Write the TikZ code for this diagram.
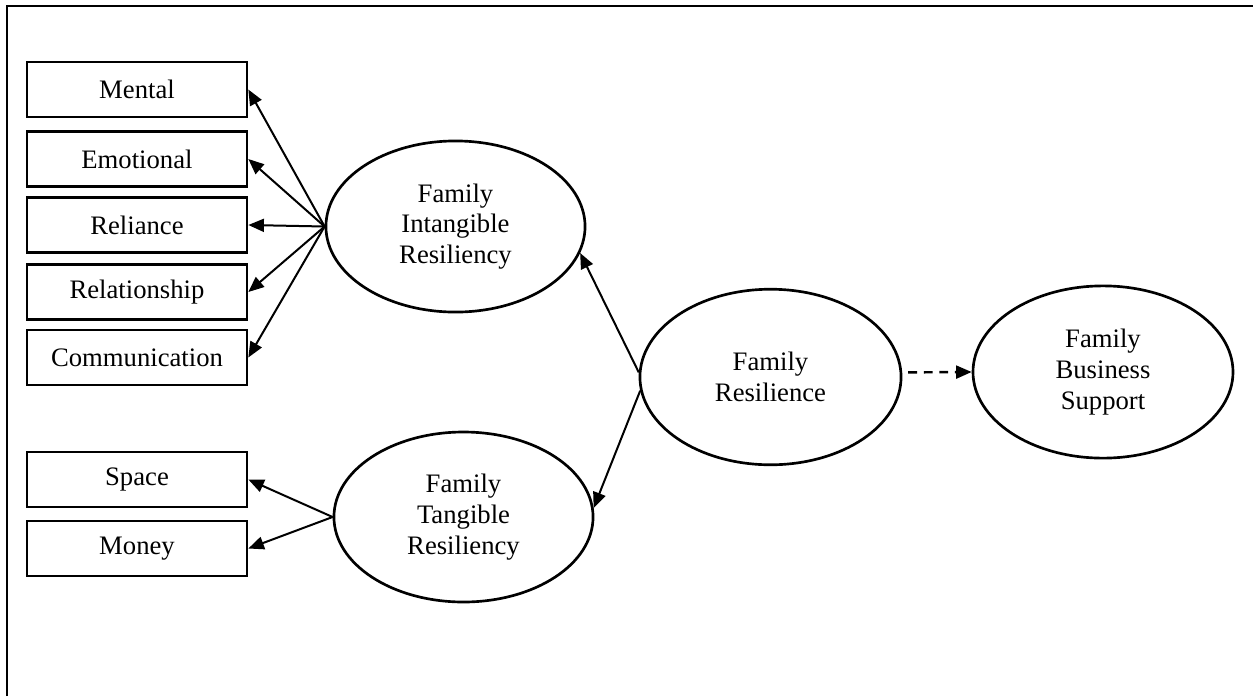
\documentclass[tikz,border=0pt]{standalone}
\usepackage{fontspec}
\setmainfont{Liberation Serif}
\usetikzlibrary{arrows.meta,shapes.geometric}

\begin{document}
\begin{tikzpicture}[x=0.45pt, y=-0.45pt, ->, >={Triangle[length=7pt,width=5.8pt]},
    box/.style={rectangle, draw, line width=1.2pt, minimum width=99pt, minimum height=24.7pt, inner sep=0pt, font=\fontsize{12pt}{13.8pt}\selectfont},
    latent/.style={ellipse, draw, line width=1.2pt, inner sep=0pt, align=center, font=\fontsize{12pt}{13.8pt}\selectfont}]
    \useasboundingbox (0,0) rectangle (1253,696);

        % Frame.
        \draw[-, line width=1.2pt] (7,696) -- (7,6) -- (1253,6);

        % Intangible indicators.
        \foreach \k/\y/\txt in {1/89.5/Mental, 2/159/Emotional, 3/225/Reliance, 4/292/Relationship, 5/357.5/Communication}
            \node[box] (I-\k) at (137,\y) {\txt};

        % Tangible indicators.
        \foreach \k/\y/\txt in {1/479.5/Space, 2/548.5/Money}
            \node[box] (T-\k) at (137,\y) {\txt};

        % Latent variables.
        \node[latent, minimum width=116.6pt, minimum height=77pt] (FI) at (455.5,226.5) {Family\\Intangible\\Resiliency};
        \node[latent, minimum width=116.6pt, minimum height=76.5pt] (FT) at (463.5,517) {Family\\Tangible\\Resiliency};
        \node[latent, minimum width=117.5pt, minimum height=79pt] (FR) at (770.5,377) {Family\\Resilience};
        \node[latent, minimum width=117pt, minimum height=77.5pt] (FB) at (1103,372) {Family\\Business\\Support};

        % Intangible connections.
        \foreach \k in {1,...,5}
            \path[line width=0.9pt] (FI.west) edge (I-\k.east);

        % Tangible connections.
        \foreach \k in {1,2}
            \path[line width=0.9pt] (FT.west) edge (T-\k.east);

        % Resilience connections.
        \path[line width=0.9pt] (FR.178) edge (FI.348);
        \path[line width=0.9pt] (FR.186) edge (FT.4);
        \path[line width=1.1pt, dash pattern=on 4pt off 3pt, shorten <=2.7pt] (FR.2) edge (FB.west);

    \end{tikzpicture}
\end{document}
